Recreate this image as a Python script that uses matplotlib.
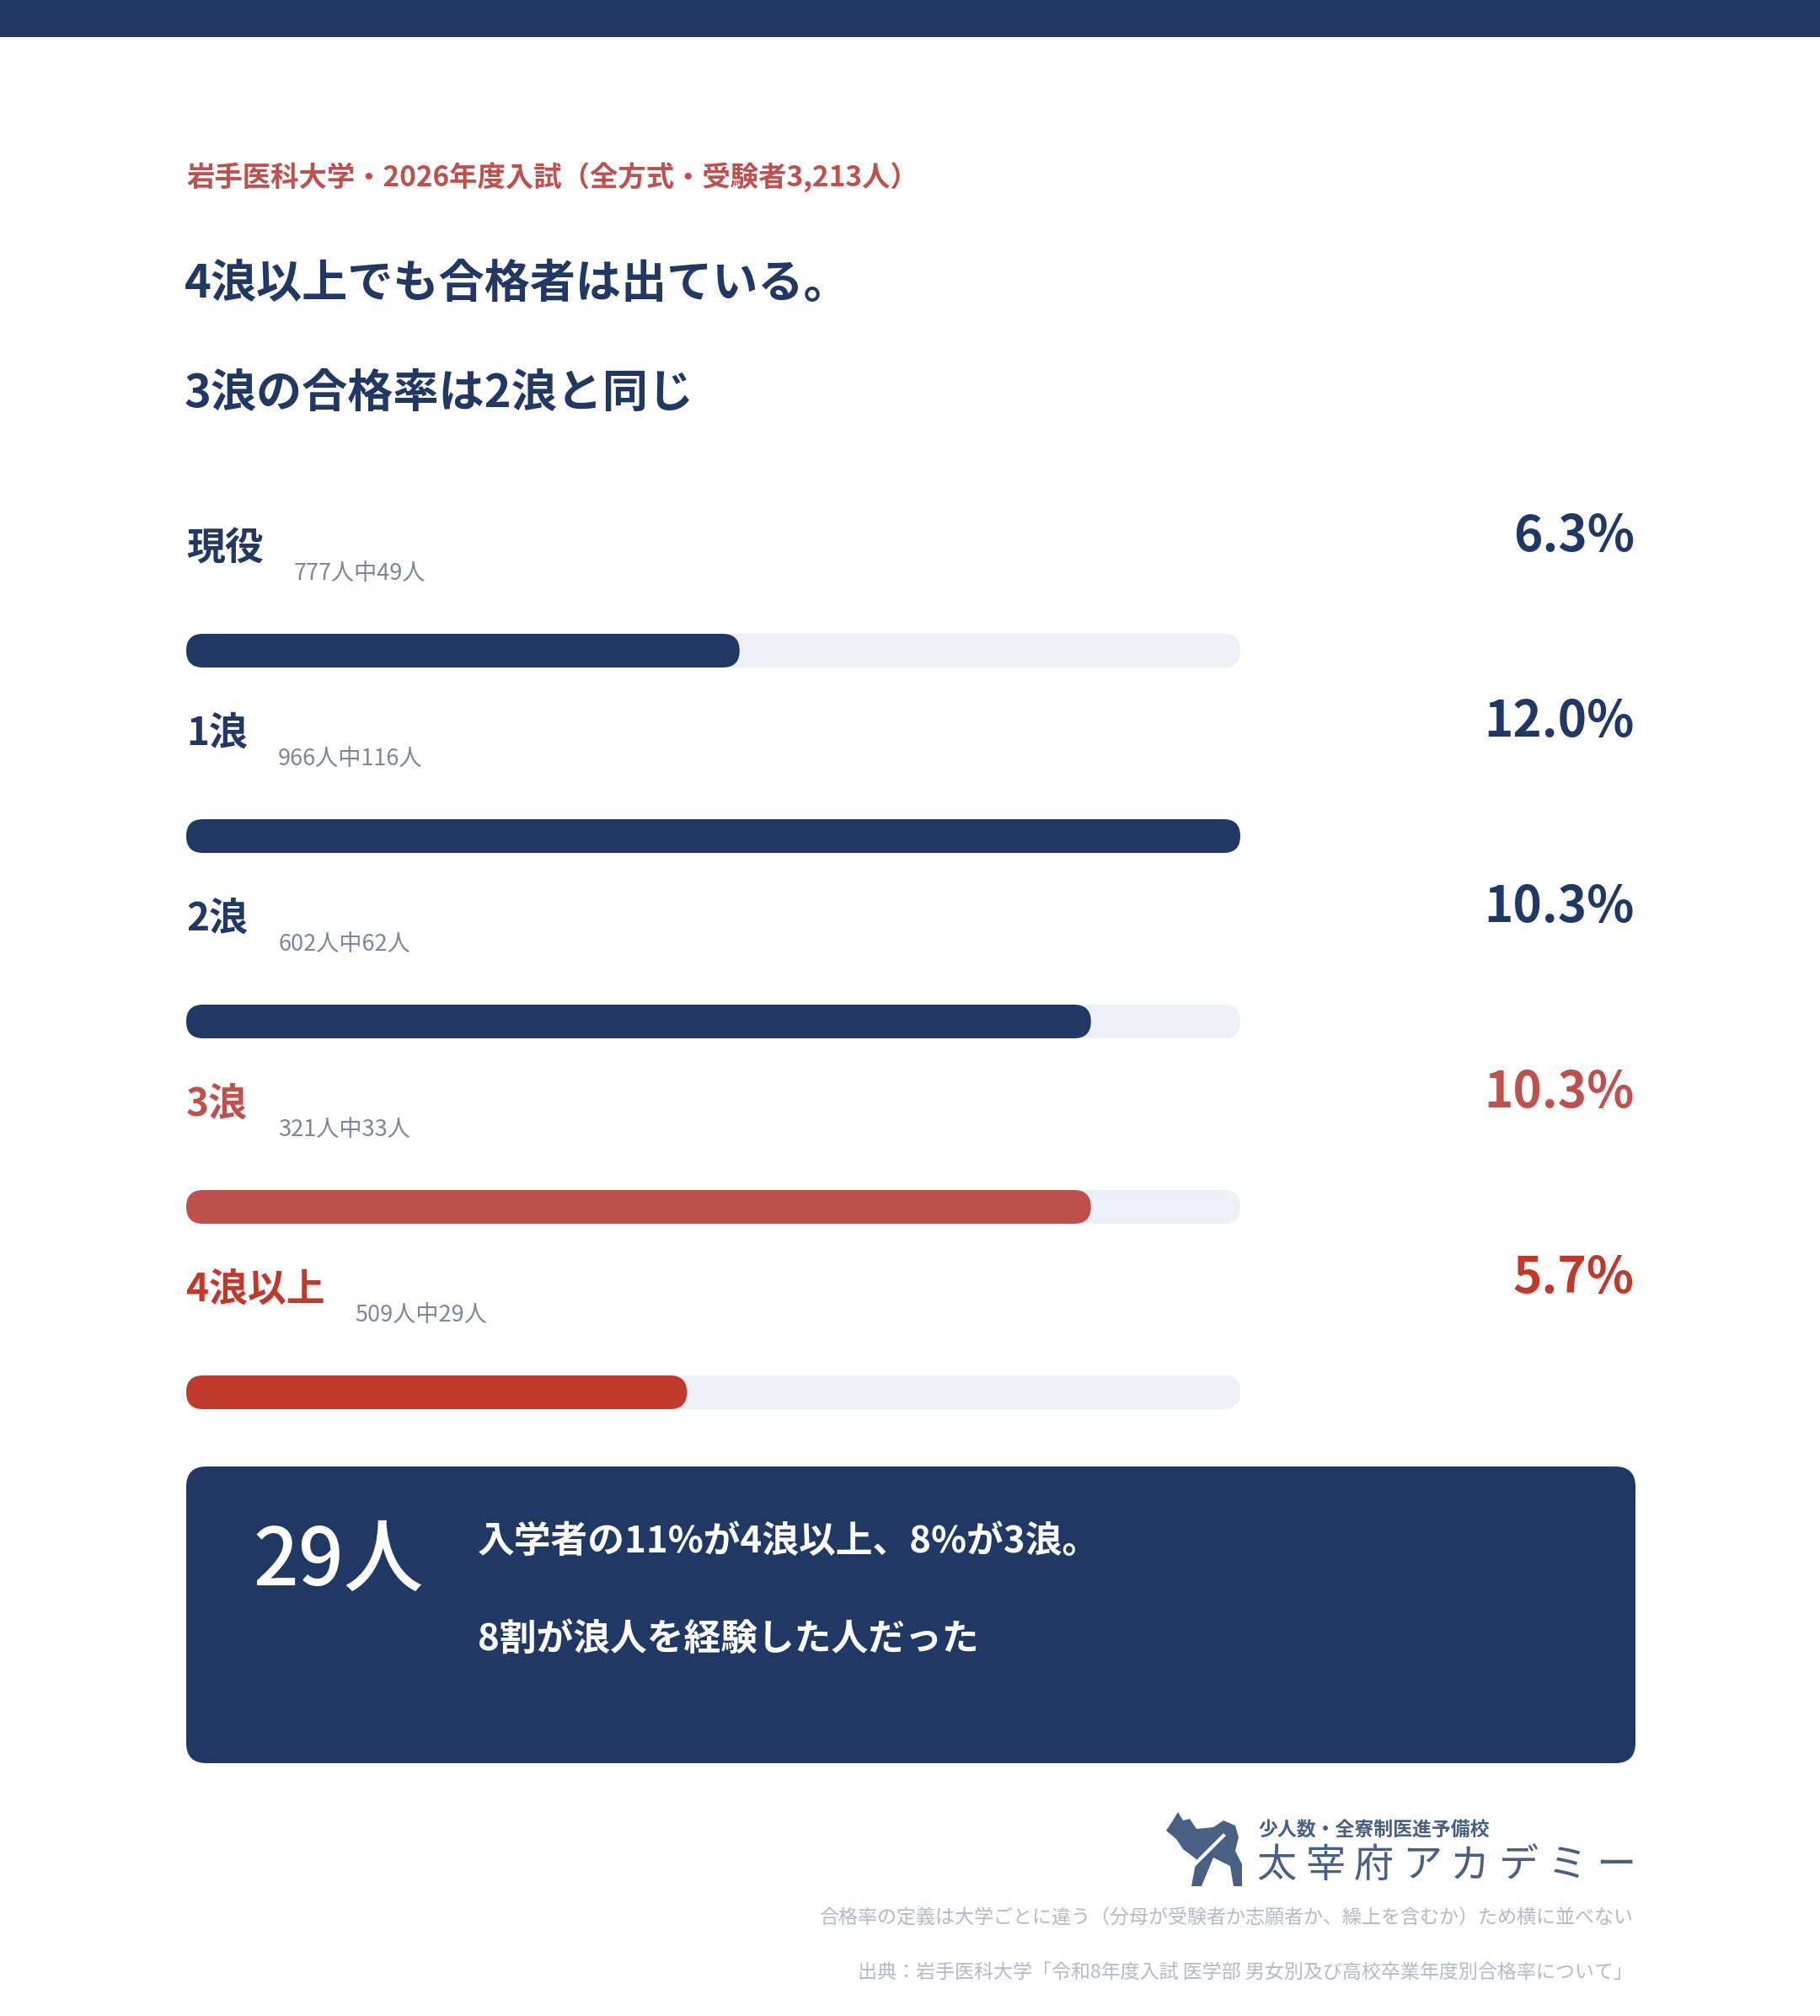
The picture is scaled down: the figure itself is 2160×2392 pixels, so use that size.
import matplotlib
matplotlib.use('Agg')
import matplotlib.pyplot as plt
from matplotlib.patches import FancyBboxPatch, Rectangle, Polygon
from matplotlib.transforms import blended_transform_factory

plt.rcParams['font.family'] = ['Noto Sans CJK JP', 'DejaVu Sans']

# data
groups = ['現役', '1浪', '2浪', '3浪', '4浪以上']
applicants = [777, 966, 602, 321, 509]
passed = [49, 116, 62, 33, 29]
rates = [6.3, 12.0, 10.3, 10.3, 5.7]
row_colors = ['#213864', '#213864', '#213864', '#C0504D', '#C0392B']

header = '岩手医科大学・2026年度入試（全方式・受験者3,213人）'
title_lines = ['4浪以上でも合格者は出ている。', '3浪の合格率は2浪と同じ']
big_number = '29人'
box_lines = ['入学者の11%が4浪以上、8%が3浪。', '8割が浪人を経験した人だった']
logo_small = '少人数・全寮制医進予備校'
logo_big = '太宰府アカデミー'
notes = ['合格率の定義は大学ごとに違う（分母が受験者か志願者か、繰上を含むか）ため横に並べない',
         '出典：岩手医科大学「令和8年度入試 医学部 男女別及び高校卒業年度別合格率について」']

NAVY = '#213864'
TRACK = '#EDF0F7'
GREY = '#7F8796'

W, H = 2160, 2392
fig = plt.figure(figsize=(W / 100, H / 100), dpi=100)
fig.patch.set_facecolor('white')

# page axes in pixel units (origin top-left)
ax = fig.add_axes([0, 0, 1, 1])
ax.set_xlim(0, W)
ax.set_ylim(H, 0)
ax.axis('off')

ax.add_patch(Rectangle((0, 0), W, 44, color=NAVY, lw=0))

ax.text(221, 210, header, fontsize=24, fontweight='bold', color='#C0504D',
        ha='left', va='center')
for y, line in zip([337, 467], title_lines):
    ax.text(219, y, line, fontsize=39, fontweight='bold', color=NAVY,
            ha='left', va='center')

# bar axes: one row per group, 220 px per row
bar_left, bar_w = 221, 1251
row_top, row_px = 662, 220
n = len(groups)
bx = fig.add_axes([bar_left / W, (H - (row_top + n * row_px)) / H,
                   bar_w / W, n * row_px / H])
bx.set_xlim(0, max(rates))
bx.set_ylim(n - 0.5, -0.5)
bx.axis('off')

fig.canvas.draw()
p0 = bx.transData.transform((0, 0))
p1 = bx.transData.transform((1, 1))
px_x = abs(p1[0] - p0[0])
px_y = abs(p1[1] - p0[1])
aspect = px_x / px_y
bar_h = 40 / px_y
r = (bar_h / 2) / aspect


def rounded_bar(x, y, w, color):
    p = FancyBboxPatch((x, y - bar_h / 2), w, bar_h,
                       boxstyle=f'round,pad=0,rounding_size={r}',
                       mutation_aspect=aspect, fc=color, ec='none', lw=0)
    bx.add_patch(p)


right_tr = blended_transform_factory(bx.transAxes, bx.transData)
pct_x = (1940 - bar_left) / bar_w

for i, (g, a, p, v, c) in enumerate(zip(groups, applicants, passed, rates, row_colors)):
    rounded_bar(0, i, max(rates), TRACK)
    rounded_bar(0, i, v, c)
    lab = bx.text(0, i - 0.55, g, fontsize=33, fontweight='bold', color=c,
                  ha='left', va='center', clip_on=False)
    bx.annotate(f'{a}人中{p}人', xy=(1, 0.5), xycoords=lab,
                xytext=(36, -29), textcoords='offset pixels',
                fontsize=19.5, color=GREY, ha='left', va='center')
    bx.text(pct_x, i - 0.615, f'{v:.1f}%', transform=right_tr, fontsize=42,
            fontweight='bold', color=c, ha='right', va='center', clip_on=False)

# summary box
ax.add_patch(FancyBboxPatch((221, 1740), 1720, 352,
                            boxstyle='round,pad=0,rounding_size=24',
                            fc=NAVY, ec='none'))
ax.text(300, 1854, big_number, fontsize=68, fontweight=500, color='white',
        ha='left', va='center')
for y, line in zip([1829, 1945], box_lines):
    ax.text(567, y, line, fontsize=31.5, fontweight='bold', color='white',
            ha='left', va='center')

# logo
LOGO = '#4A5F84'
dog = [(1384, 2172), (1392, 2160), (1398, 2150), (1404, 2160), (1412, 2158),
       (1420, 2170), (1440, 2168), (1452, 2160), (1466, 2166), (1470, 2180),
       (1466, 2196), (1474, 2212), (1474, 2238), (1464, 2238), (1460, 2214),
       (1440, 2204), (1426, 2238), (1414, 2238), (1420, 2206), (1404, 2194),
       (1396, 2182)]
ax.add_patch(Polygon(dog, closed=True, fc=LOGO, ec='none'))
ax.plot([1408, 1452], [2222, 2178], color='white', lw=3)
ax.text(1493, 2172, logo_small, fontsize=16.5, fontweight='bold', color=LOGO,
        ha='left', va='center')
for k, ch in enumerate(logo_big):
    ax.text(1515 + k * 57.5, 2214, ch, fontsize=34, color=LOGO,
            ha='center', va='center')

for y, line in zip([2276, 2340], notes):
    ax.text(1938, y, line, fontsize=16.6, color='#B4BAC6', ha='right', va='center')

fig.savefig('out.png', dpi=100, facecolor='white')
